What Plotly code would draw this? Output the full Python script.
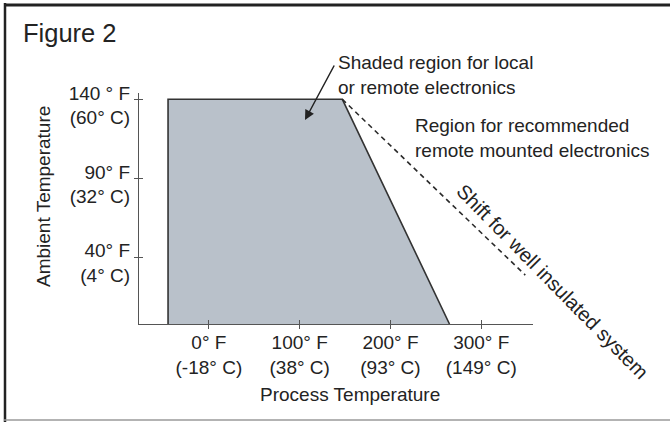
import plotly.graph_objects as go

# ---- data ----
x_tick_vals = [0, 100, 200, 300]
x_tick_text = ["0° F<br>(-18° C)", "100° F<br>(38° C)", "200° F<br>(93° C)", "300° F<br>(149° C)"]
y_tick_vals = [40, 90, 140]
y_tick_text = ["40° F<br>(4° C)", "90° F<br>(32° C)", "140 ° F<br>(60° C)"]

X_MIN, X_MAX = -77, 357
Y_MIN, Y_MAX = -2.4, 144

region_process = [-45, -45, 147, 265]
region_ambient = [Y_MIN, 140, 140, Y_MIN]

shift_process = [147, 348.5]
shift_ambient = [140, 28.6]

W, H = 670, 422
L, R, T, B = 139, 137, 93, 98
PW, PH = W - L - R, H - T - B


def px(x):
    return (x - L) / PW


def py(y):
    return (H - B - y) / PH


FONT = "Liberation Sans, Arial, sans-serif"
TXT = "#232323"

fig = go.Figure()
fig.add_trace(go.Scatter(
    x=region_process, y=region_ambient, mode="lines", fill="toself",
    fillcolor="#b9c1ca", line=dict(color="#333333", width=1.6),
    hoverinfo="skip", showlegend=False))
fig.add_trace(go.Scatter(
    x=shift_process, y=shift_ambient, mode="lines",
    line=dict(color="#2a2a2a", width=1.6, dash="5px,4px"),
    hoverinfo="skip", showlegend=False))

axis_common = dict(showgrid=False, zeroline=False, showline=True, linecolor="#555555",
                   linewidth=1.2, tickcolor="#555555", ticklen=4, tickwidth=1)

fig.update_layout(
    width=W, height=H, margin=dict(l=L, r=R, t=T, b=B),
    paper_bgcolor="white", plot_bgcolor="white",
    font=dict(family=FONT, color=TXT, size=19),
    xaxis=dict(range=[X_MIN, X_MAX], tickvals=x_tick_vals, ticktext=x_tick_text,
               ticks="outside", ticklabelstandoff=-3, **axis_common),
    yaxis=dict(range=[Y_MIN, Y_MAX], tickvals=y_tick_vals, ticktext=y_tick_text,
               ticks="outside", ticklabelshift=6, **axis_common),
    xaxis2=dict(overlaying="x", matches="x", anchor="y", side="bottom",
                tickvals=x_tick_vals, showticklabels=False, ticks="inside", **axis_common),
    yaxis2=dict(overlaying="y", matches="y", anchor="x", side="left",
                tickvals=y_tick_vals, showticklabels=False, ticks="inside", **axis_common),
    showlegend=False,
)
# invisible helper trace so the inner-tick axes are drawn
fig.add_trace(go.Scatter(x=[X_MIN], y=[Y_MIN], xaxis="x2", yaxis="y2", mode="none",
                         hoverinfo="skip", showlegend=False))

ann = []
ann.append(dict(text="Figure 2", xref="paper", yref="paper", x=px(21), y=py(33),
                xanchor="left", yanchor="middle", showarrow=False,
                font=dict(size=25.5, family=FONT, color=TXT)))
ann.append(dict(text="Process Temperature", xref="paper", yref="paper", x=px(350), y=py(394),
                xanchor="center", yanchor="middle", showarrow=False))
ann.append(dict(text="Ambient Temperature", xref="paper", yref="paper", x=px(43), y=py(197),
                xanchor="center", yanchor="middle", textangle=-90, showarrow=False))
ann.append(dict(text="Shaded region for local<br>or remote electronics", xref="paper", yref="paper",
                x=px(336), y=py(74.5), xanchor="left", yanchor="middle", align="left",
                showarrow=False))
ann.append(dict(text="Region for recommended<br>remote mounted electronics", xref="paper", yref="paper",
                x=px(413), y=py(137.5), xanchor="left", yanchor="middle", align="left",
                showarrow=False))
ann.append(dict(text="Shift for well insulated system", xref="paper", yref="paper",
                x=px(552), y=py(281), xanchor="center", yanchor="middle", textangle=45.5,
                showarrow=False, font=dict(size=20, family=FONT, color=TXT)))
# arrow (tail offset in pixels from the tip)
ann.append(dict(text="", xref="paper", yref="paper", x=px(305), y=py(120),
                axref="pixel", ayref="pixel", ax=30, ay=-56,
                showarrow=True, arrowhead=2, arrowsize=1.3, arrowwidth=1.5,
                arrowcolor="#222222", standoff=0))
fig.update_layout(annotations=ann)

# frame: dark left/top edges, thin grey bottom edge
fig.add_shape(type="line", xref="paper", yref="paper", x0=px(5), x1=px(5), y0=py(3), y1=py(422),
              line=dict(color="#222222", width=2.5))
fig.add_shape(type="line", xref="paper", yref="paper", x0=px(4), x1=px(690), y0=py(5), y1=py(5),
              line=dict(color="#222222", width=3))
fig.add_shape(type="line", xref="paper", yref="paper", x0=px(4), x1=px(690), y0=py(420), y1=py(420),
              line=dict(color="#9a9a9a", width=1.5))

fig.write_html("out.html", config={"displayModeBar": False},
               post_script="document.body.style.margin='0';document.body.style.overflow='hidden';")
